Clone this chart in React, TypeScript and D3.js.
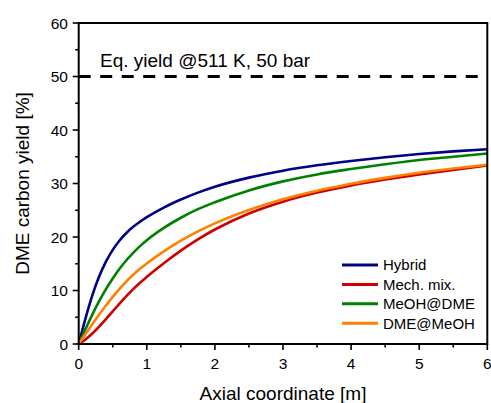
import React from 'react';
import * as d3 from 'd3';

// axial positions [m] where the curves were read
const axialPos = [0, 0.1, 0.2, 0.3, 0.4, 0.5, 0.6, 0.7, 0.8, 0.9, 1, 1.25, 1.5, 1.75, 2, 2.5, 3, 3.5, 4, 4.5, 5, 5.5, 6];

// DME carbon yield [%]
const hybrid = [0, 4.8, 9.1, 12.6, 15.4, 17.6, 19.35, 20.75, 21.9, 22.85, 23.7, 25.5, 27.0, 28.3, 29.4, 31.1, 32.4, 33.4, 34.2, 34.9, 35.5, 36.0, 36.4];
const mechMix = [0, 0.85, 1.95, 3.25, 4.65, 6.1, 7.55, 8.95, 10.25, 11.45, 12.55, 15.1, 17.45, 19.55, 21.4, 24.4, 26.6, 28.3, 29.65, 30.75, 31.7, 32.55, 33.35];
const meohAtDme = [0, 2.8, 5.5, 8.0, 10.25, 12.25, 14.05, 15.65, 17.05, 18.3, 19.4, 21.7, 23.6, 25.2, 26.5, 28.7, 30.4, 31.7, 32.7, 33.6, 34.4, 35.0, 35.6];
const dmeAtMeoh = [0, 1.85, 3.7, 5.5, 7.2, 8.8, 10.3, 11.7, 12.95, 14.05, 15.05, 17.3, 19.3, 21.05, 22.55, 25.05, 27.05, 28.65, 29.95, 31.05, 32.0, 32.8, 33.5];

const seriesNames = ['Hybrid', 'Mech. mix.', 'MeOH@DME', 'DME@MeOH'];
const seriesValues = [hybrid, mechMix, meohAtDme, dmeAtMeoh];
const seriesColors = ['#000088', '#cc0000', '#008000', '#ff8000'];

const eqYield = 50;
const xTicks = [0, 1, 2, 3, 4, 5, 6];
const yTicks = [0, 10, 20, 30, 40, 50, 60];

const W = 491;
const H = 403;
const FONT = '"Liberation Sans", Arial, sans-serif';

export default function App() {
  const x = d3.scaleLinear().domain([0, 6]).range([78.7, 487.3]);
  const y = d3.scaleLinear().domain([0, 60]).range([344, 23]);

  const line = d3
    .line<number>()
    .x((_, i) => x(axialPos[i]))
    .y((d) => y(d))
    .curve(d3.curveMonotoneX);

  const xMinor = d3.range(0.5, 6, 1);
  const yMinor = d3.range(5, 60, 10);
  const [x0, x1] = x.range();
  const [y0, y1] = y.range();

  return (
    <svg width={W} height={H} style={{ position: 'absolute', left: 0, top: 0, background: '#fff' }} fontFamily={FONT}>
      {/* curves */}
      <g fill="none" strokeWidth={2.6}>
        {seriesValues.map((vals, i) => (
          <path key={seriesNames[i]} d={line(vals) ?? ''} stroke={seriesColors[i]} />
        ))}
      </g>

      {/* equilibrium line */}
      <line x1={x(0)} x2={x(6)} y1={y(eqYield)} y2={y(eqYield)} stroke="#000" strokeWidth={3} strokeDasharray="12,9.5" />
      <text x={100} y={67} fontSize={19}>Eq. yield @511 K, 50 bar</text>

      {/* frame */}
      <rect x={x0} y={y1} width={x1 - x0} height={y0 - y1} fill="none" stroke="#000" strokeWidth={2} />

      {/* ticks */}
      <g stroke="#000" strokeWidth={1.6}>
        {xTicks.map((t) => (
          <line key={'xt' + t} x1={x(t)} x2={x(t)} y1={y0} y2={y0 + 6} />
        ))}
        {xMinor.map((t) => (
          <line key={'xm' + t} x1={x(t)} x2={x(t)} y1={y0} y2={y0 + 3.5} />
        ))}
        {yTicks.map((t) => (
          <line key={'yt' + t} x1={x0} x2={x0 - 6} y1={y(t)} y2={y(t)} />
        ))}
        {yMinor.map((t) => (
          <line key={'ym' + t} x1={x0} x2={x0 - 3.5} y1={y(t)} y2={y(t)} />
        ))}
      </g>
      <g fontSize={15.5} fill="#000">
        {xTicks.map((t) => (
          <text key={'xl' + t} x={x(t)} y={369} textAnchor="middle">{t}</text>
        ))}
        {yTicks.map((t) => (
          <text key={'yl' + t} x={68} y={y(t)} dy="0.36em" textAnchor="end">{t}</text>
        ))}
      </g>

      {/* axis titles */}
      <text x={(x0 + x1) / 2} y={400} textAnchor="middle" fontSize={19}>Axial coordinate [m]</text>
      <text transform={`translate(29,${(y0 + y1) / 2}) rotate(-90)`} textAnchor="middle" fontSize={19}>DME carbon yield [%]</text>

      {/* legend */}
      <g>
        {seriesNames.map((name, i) => (
          <g key={name} transform={`translate(342,${265 + i * 19.4})`}>
            <line x1={0} x2={36} y1={0} y2={0} stroke={seriesColors[i]} strokeWidth={3} />
            <text x={41} y={0} dy="0.36em" fontSize={15}>{name}</text>
          </g>
        ))}
      </g>
    </svg>
  );
}
